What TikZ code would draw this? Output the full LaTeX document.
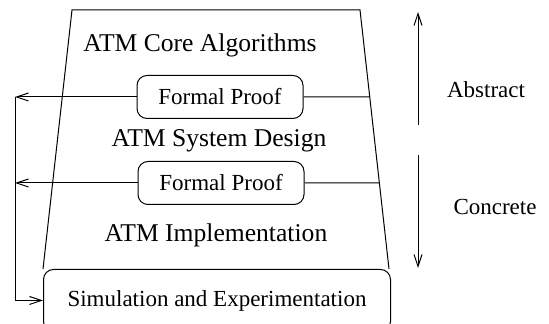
\documentclass[tikz,border=0pt]{standalone}
\usepackage{fontspec}
\setmainfont{Liberation Serif}
\usetikzlibrary{arrows.meta,positioning}

\begin{document}
\begin{tikzpicture}[x=0.5pt,y=-0.5pt,line width=0.5pt,
    >={Straight Barb[length=6pt,width=4pt]},
    layer/.style={font=\fontsize{12.8}{15}\selectfont},
    proof/.style={draw,rounded corners=5pt,inner sep=0pt,minimum width=83pt,minimum height=21.5pt,font=\fontsize{11.5}{14}\selectfont},
    side/.style={font=\fontsize{11.5}{14}\selectfont}]
    \useasboundingbox (0,0) rectangle (549,324);
    % Corners of the layer stack
    \coordinate (tl) at (72,10);
    \coordinate (tr) at (360,10);
    \coordinate (bl) at (43,269);
    \coordinate (br) at (389,269);
    \draw (bl) -- (tl) -- (tr) -- (br);
    % Layers
    \node[layer] (core) at (200,45) {ATM Core Algorithms};
    \node[layer] (design) at (219,141) {ATM System Design};
    \node[layer] (impl) at (216,235) {ATM Implementation};
    % Proofs between the layers
    \node[proof] (proof1) at (220,97) {Formal Proof};
    \node[proof] (proof2) at (221,183) {Formal Proof};
    \draw (proof1.east) -- (intersection of tr--br and proof1.east--proof1.west);
    \draw (proof2.east) -- (intersection of tr--br and proof2.east--proof2.west);
    % Bottom box
    \node[proof,minimum width=173.5pt,minimum height=31pt,anchor=north west] (sim) at (bl) {Simulation and Experimentation};
    % Feedback loop
    \coordinate (loop) at (15,0);
    \draw[->] (proof1.west) -- (proof1.west -| loop);
    \draw[->] (proof2.west) -- (proof2.west -| loop);
    \draw[->] (proof1.west -| loop) -- (sim.west -| loop) -- (sim.west);
    % Abstraction scale
    \coordinate (uplow) at (418,125);
    \coordinate (uptop) at (418,12);
    \coordinate (downtop) at (418,155);
    \coordinate (downlow) at (418,268);
    \draw[->] (uplow) -- (uptop);
    \draw[->] (downtop) -- (downlow);
    \node[side] (abstract) at (486,90) {Abstract};
    \node[side] (concrete) at (495,207) {Concrete};
\end{tikzpicture}
\end{document}
